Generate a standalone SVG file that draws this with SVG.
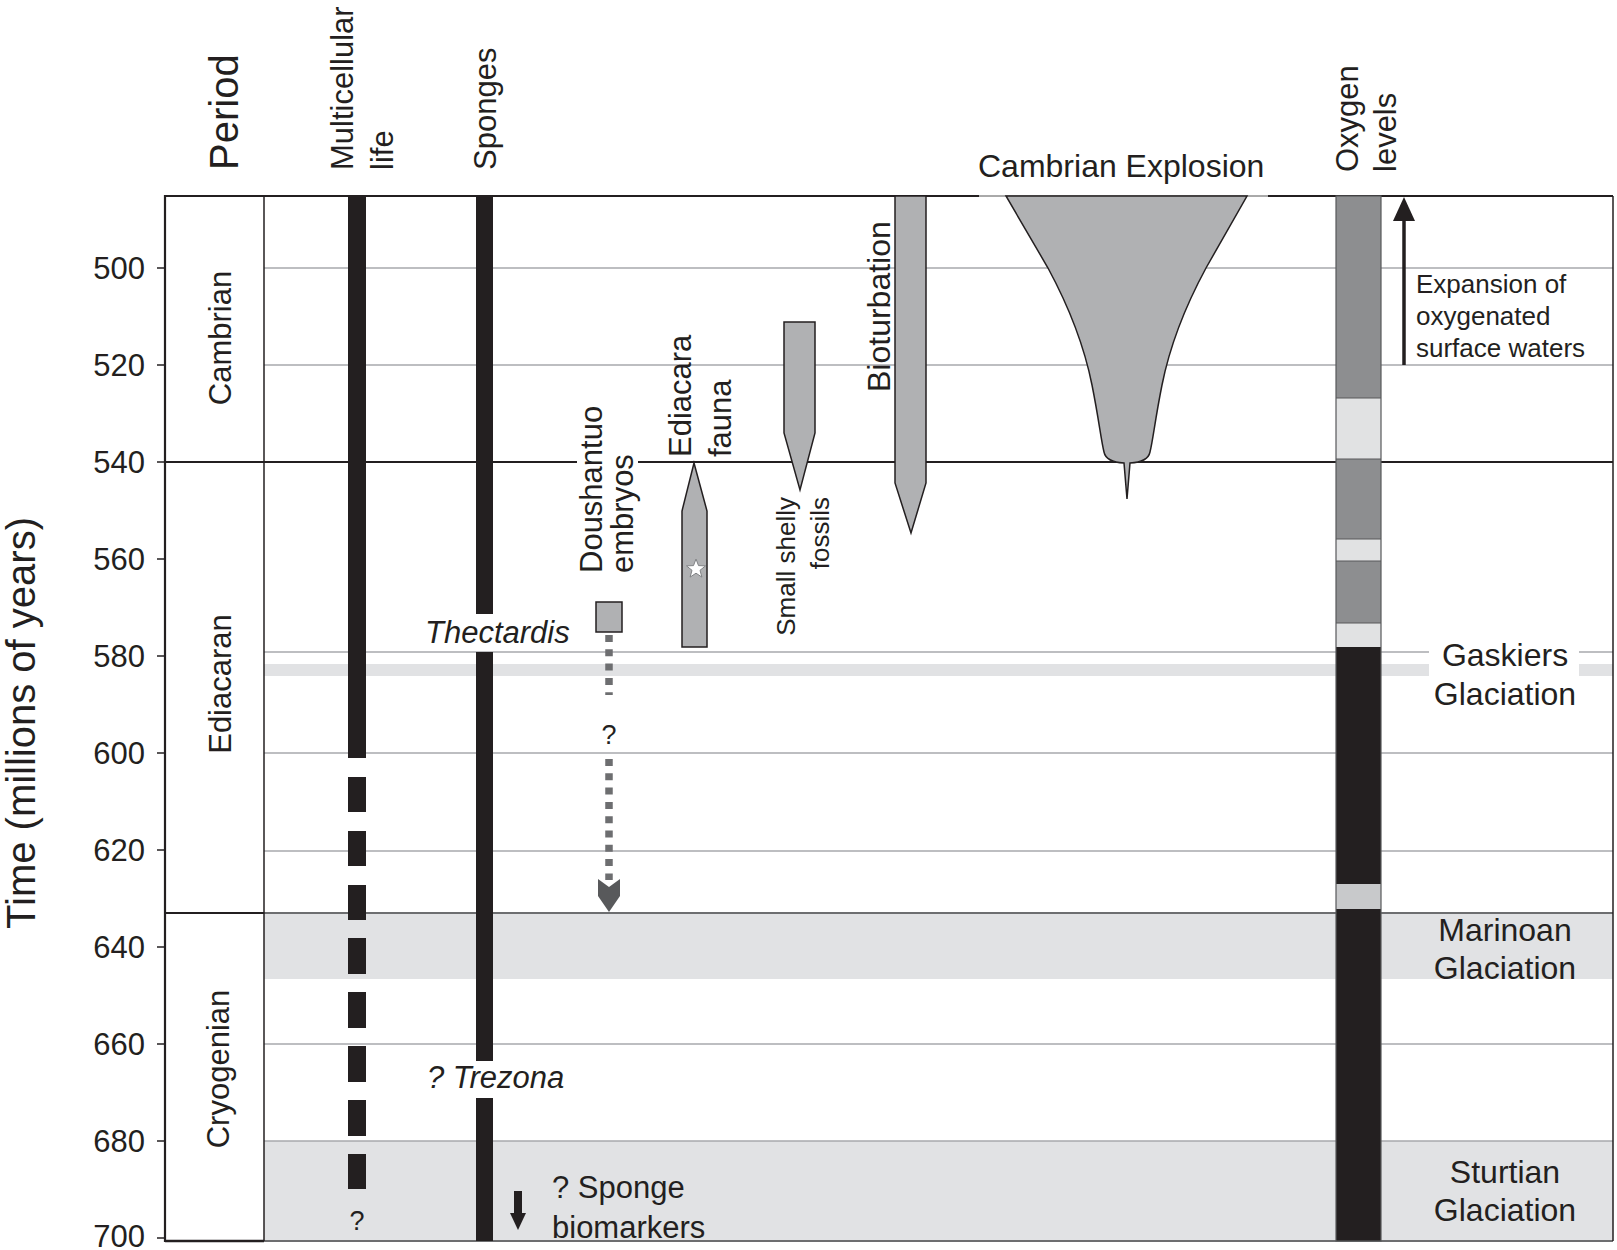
<svg xmlns="http://www.w3.org/2000/svg" width="1617" height="1250" viewBox="0 0 1617 1250">
<style>
.t{font-family:"Liberation Sans",Arial,Helvetica,sans-serif;fill:#231f20}
.f31{font-size:31px}
.f26{font-size:26px}
.f25{font-size:26px}
.it{font-style:italic}
.grid{stroke:#a7a9ac;stroke-width:1.5;fill:none}
.band{fill:#e1e2e4}
.blk{fill:#231f20}
.shape{fill:#b0b1b3;stroke:#231f20;stroke-width:1.5}
.o2m{fill:#8d8e90}
.o2l{fill:#e1e2e3}
.o2g{fill:#c8c9cb}
</style>
<rect width="1617" height="1250" fill="#fff"/>
<g id="background">
  <rect class="band" x="264" y="913" width="1349" height="66"/>
  <rect class="band" x="264" y="1141" width="1349" height="100"/>
  <rect class="band" x="264" y="664" width="1349" height="12"/>
  <g class="grid">
    <line x1="264" y1="268" x2="1613" y2="268"/>
    <line x1="264" y1="365" x2="1613" y2="365"/>
    <line x1="264" y1="652" x2="1613" y2="652"/>
    <line x1="264" y1="753" x2="1613" y2="753"/>
    <line x1="264" y1="851" x2="1613" y2="851"/>
    <line x1="264" y1="1044" x2="1613" y2="1044"/>
    <line x1="264" y1="1141" x2="1613" y2="1141"/>
  </g>
  <rect x="1429" y="640" width="150" height="44" fill="#fff"/>
  <line x1="264" y1="913" x2="1613" y2="913" stroke="#6d6e70" stroke-width="1.8"/>
  <line x1="264" y1="1241" x2="1613" y2="1241" stroke="#6d6e70" stroke-width="1.8"/>
</g>
<g id="frame" fill="none">
  <line x1="165" y1="196" x2="979" y2="196" stroke="#231f20" stroke-width="2.2"/>
  <line x1="979" y1="196" x2="1268" y2="196" stroke="#555" stroke-width="1"/>
  <line x1="1268" y1="196" x2="1613" y2="196" stroke="#231f20" stroke-width="2.2"/>
  <line x1="165" y1="195" x2="165" y2="1242" stroke="#231f20" stroke-width="2.2"/>
  <line x1="264" y1="196" x2="264" y2="1241" stroke="#231f20" stroke-width="1.5"/>
  <line x1="1613" y1="196" x2="1613" y2="1241" stroke="#231f20" stroke-width="1.5"/>
  <line x1="165" y1="462" x2="577" y2="462" stroke="#231f20" stroke-width="2"/>
  <line x1="638" y1="462" x2="1613" y2="462" stroke="#231f20" stroke-width="2"/>
  <line x1="165" y1="913" x2="264" y2="913" stroke="#231f20" stroke-width="2.2"/>
  <line x1="165" y1="1241" x2="264" y2="1241" stroke="#231f20" stroke-width="2.5"/>
</g>
<g id="axis">
  <g stroke="#231f20" stroke-width="1.5">
    <line x1="157" y1="268" x2="165" y2="268"/>
    <line x1="157" y1="365" x2="165" y2="365"/>
    <line x1="157" y1="462" x2="165" y2="462"/>
    <line x1="157" y1="559" x2="165" y2="559"/>
    <line x1="157" y1="656" x2="165" y2="656"/>
    <line x1="157" y1="753" x2="165" y2="753"/>
    <line x1="157" y1="850" x2="165" y2="850"/>
    <line x1="157" y1="947" x2="165" y2="947"/>
    <line x1="157" y1="1044" x2="165" y2="1044"/>
    <line x1="157" y1="1141" x2="165" y2="1141"/>
    <line x1="157" y1="1238" x2="165" y2="1238"/>
  </g>
  <g class="t f31" text-anchor="end">
    <text x="145" y="279">500</text>
    <text x="145" y="376">520</text>
    <text x="145" y="473">540</text>
    <text x="145" y="570">560</text>
    <text x="145" y="667">580</text>
    <text x="145" y="764">600</text>
    <text x="145" y="861">620</text>
    <text x="145" y="958">640</text>
    <text x="145" y="1055">660</text>
    <text x="145" y="1152">680</text>
    <text x="145" y="1247">700</text>
  </g>
  <text class="t" font-size="40" text-anchor="middle" transform="translate(35,723) rotate(-90)">Time (millions of years)</text>
</g>
<g id="headers" class="t f31">
  <text font-size="40" transform="translate(238,170) rotate(-90)">Period</text>
  <text transform="translate(353,170) rotate(-90)">Multicellular</text>
  <text transform="translate(393,170) rotate(-90)">life</text>
  <text transform="translate(496,170) rotate(-90)">Sponges</text>
  <text transform="translate(1358,172) rotate(-90)">Oxygen</text>
  <text transform="translate(1396,172) rotate(-90)">levels</text>
  <text x="978" y="177" font-size="32">Cambrian Explosion</text>
</g>
<g id="periods" class="t f31" text-anchor="middle">
  <text transform="translate(231,338) rotate(-90)">Cambrian</text>
  <text transform="translate(231,684) rotate(-90)">Ediacaran</text>
  <text transform="translate(229,1069) rotate(-90)">Cryogenian</text>
</g>
<g id="multicellular-life">
  <rect class="blk" x="348" y="196" width="18" height="562"/>
  <rect class="blk" x="348" y="777" width="18" height="35"/>
  <rect class="blk" x="348" y="831" width="18" height="35"/>
  <rect class="blk" x="348" y="885" width="18" height="35"/>
  <rect class="blk" x="348" y="938" width="18" height="36"/>
  <rect class="blk" x="348" y="992" width="18" height="36"/>
  <rect class="blk" x="348" y="1046" width="18" height="36"/>
  <rect class="blk" x="348" y="1100" width="18" height="36"/>
  <rect class="blk" x="348" y="1154" width="18" height="35"/>
  <text class="t" font-size="27" x="357" y="1230" text-anchor="middle">?</text>
</g>
<g id="sponges">
  <rect class="blk" x="476" y="196" width="17" height="418"/>
  <rect class="blk" x="476" y="652" width="17" height="409"/>
  <rect class="blk" x="476" y="1098" width="17" height="143"/>
  <text class="t it f31" x="425" y="643">Thectardis</text>
  <text class="t it" font-size="31" x="427" y="1088">? Trezona</text>
</g>
<g id="sponge-biomarkers">
  <rect class="blk" x="514" y="1191" width="8" height="23"/>
  <polygon class="blk" points="510,1213 526,1213 518,1230"/>
  <text class="t" font-size="31" x="552" y="1198">? Sponge</text>
  <text class="t" font-size="31" x="552" y="1238">biomarkers</text>
</g>
<g id="doushantuo">
  <rect class="shape" x="596" y="602" width="26" height="30"/>
  <text class="t f31" transform="translate(602,573) rotate(-90)">Doushantuo</text>
  <text class="t f31" transform="translate(633,573) rotate(-90)">embryos</text>
</g>
<g id="ediacara">
  <polygon class="shape" points="694,463 707,511 707,647 682,647 682,511"/>
  <polygon points="696,559 698.5,565.6 705.5,565.9 700,570.3 701.9,577.1 696,573.2 690.1,577.1 692,570.3 686.5,565.9 693.5,565.6" fill="#fff" stroke="#808285" stroke-width="1"/>
  <text class="t f31" transform="translate(691,457) rotate(-90)">Ediacara</text>
  <text class="t f31" transform="translate(731,457) rotate(-90)">fauna</text>
</g>
<g id="small-shelly">
  <polygon class="shape" points="784,322 815,322 815,433 800,490 784,433"/>
  <text class="t f26" text-anchor="end" transform="translate(795,497) rotate(-90)">Small shelly</text>
  <text class="t f26" text-anchor="end" transform="translate(829,497) rotate(-90)">fossils</text>
</g>
<g id="bioturbation">
  <polygon class="shape" points="895,196 926,196 926,483 911,533 895,483"/>
  <text class="t" font-size="32" transform="translate(890,392) rotate(-90)">Bioturbation</text>
</g>
<g id="cambrian-explosion">
  <path class="shape" stroke-width="1" d="M1006,196 L1247,196 L1206,268 C1186,305 1170,345 1162,385 C1155,420 1153,440 1150,452 Q1148,462 1130,463 L1127,499 L1124,463 Q1106,462 1104,452 C1101,440 1099,420 1092,385 C1084,345 1068,305 1048,268 Z"/>
</g>
<g id="oxygen-levels">
  <rect class="o2m" x="1336" y="196" width="45" height="202"/>
  <rect class="o2l" x="1336" y="398" width="45" height="61"/>
  <rect class="o2m" x="1336" y="459" width="45" height="80"/>
  <rect class="o2l" x="1336" y="539" width="45" height="22"/>
  <rect class="o2m" x="1336" y="561" width="45" height="62"/>
  <rect class="o2l" x="1336" y="623" width="45" height="24"/>
  <rect class="blk" x="1336" y="647" width="45" height="237"/>
  <rect class="o2g" x="1336" y="884" width="45" height="25"/>
  <rect class="blk" x="1336" y="909" width="45" height="332"/>
  <g stroke="#58595b" stroke-width="1">
    <line x1="1336" y1="398" x2="1381" y2="398"/>
    <line x1="1336" y1="459" x2="1381" y2="459"/>
    <line x1="1336" y1="539" x2="1381" y2="539"/>
    <line x1="1336" y1="561" x2="1381" y2="561"/>
    <line x1="1336" y1="623" x2="1381" y2="623"/>
  </g>
  <rect x="1336" y="196" width="45" height="1045" fill="none" stroke="#58595b" stroke-width="1.2"/>
</g>
<g id="connectors">
  <line x1="609" y1="635" x2="609" y2="695" stroke="#6d6e70" stroke-width="7.5" stroke-dasharray="7 7.3"/>
  <line x1="609" y1="759" x2="609" y2="880" stroke="#6d6e70" stroke-width="7.5" stroke-dasharray="7 7.3"/>
  <polygon points="598,879 609,887 620,879 620,896 609,912 598,896" fill="#58595b"/>
  <text class="t" font-size="27" x="609" y="744" text-anchor="middle">?</text>
  <line x1="1404" y1="365" x2="1404" y2="215" stroke="#231f20" stroke-width="3.5"/>
  <polygon points="1404,197 1415,221 1393,221" fill="#231f20"/>
</g>
<g id="oxygen-note" class="t f25">
  <text x="1416" y="293">Expansion of</text>
  <text x="1416" y="325">oxygenated</text>
  <text x="1416" y="357">surface waters</text>
</g>
<g id="glaciations" class="t" font-size="32" text-anchor="middle">
  <text x="1505" y="666">Gaskiers</text>
  <text x="1505" y="705">Glaciation</text>
  <text x="1505" y="941">Marinoan</text>
  <text x="1505" y="979">Glaciation</text>
  <text x="1505" y="1183">Sturtian</text>
  <text x="1505" y="1221">Glaciation</text>
</g>
</svg>
